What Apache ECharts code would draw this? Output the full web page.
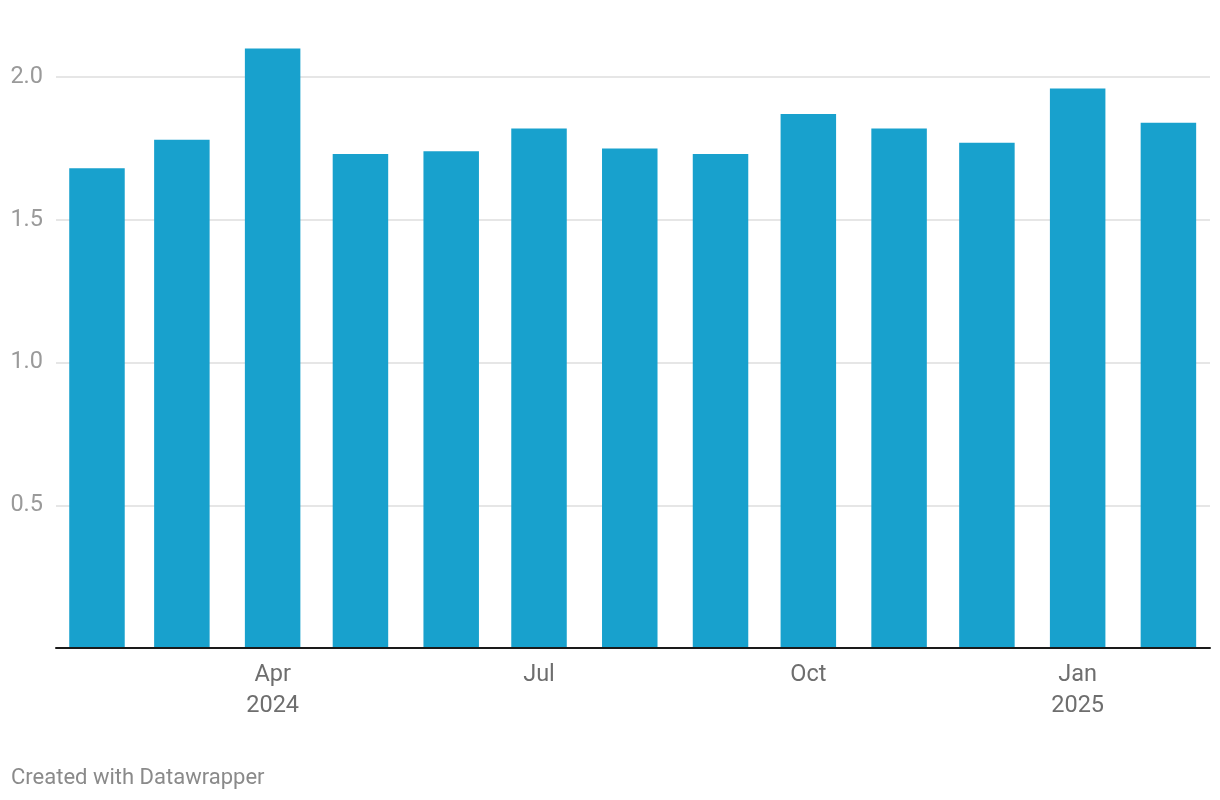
<!DOCTYPE html>
<html>
<head>
<meta charset="utf-8">
<script src="https://cdn.jsdelivr.net/npm/echarts@6/dist/echarts.min.js"></script>
<style>
  html, body { margin: 0; padding: 0; background: #ffffff; }
  #chart { width: 1220px; height: 800px; }
</style>
</head>
<body>
<div id="chart"></div>
<script>
// Monthly dates (year, month index) for each column
const months = [
  [2024, 1], [2024, 2], [2024, 3], [2024, 4], [2024, 5], [2024, 6], [2024, 7],
  [2024, 8], [2024, 9], [2024, 10], [2024, 11], [2025, 0], [2025, 1]
];
const values = [1.68, 1.78, 2.10, 1.73, 1.74, 1.82, 1.75, 1.73, 1.87, 1.82, 1.77, 1.96, 1.84];

// X tick labels
const tickDates = [[2024, 3], [2024, 6], [2024, 9], [2025, 0]];
const tickLabels = ['Apr\n2024', 'Jul', 'Oct', 'Jan\n2025'];

// Y ticks
const yTicks = [0, 0.5, 1.0, 1.5, 2.0];

const footer = 'Created with Datawrapper';

// x positions in days since epoch (time-proportional spacing)
const DAY = 86400000;
const toDay = (ym) => Date.UTC(ym[0], ym[1], 1) / DAY;
const seriesData = months.map((m, i) => [toDay(m), values[i]]);
const tickValues = tickDates.map(toDay);

const chart = echarts.init(document.getElementById('chart'), null, { renderer: 'canvas' });

chart.setOption({
  animation: false,
  backgroundColor: '#ffffff',
  textStyle: { fontFamily: 'Roboto' },
  title: {
    text: footer,
    left: 11,
    top: 767,
    padding: 0,
    textStyle: { fontFamily: 'Roboto', fontSize: 22, fontWeight: 'normal', color: '#8a8a8a' }
  },
  grid: { left: 56, right: 10, top: 77, bottom: 152, containLabel: false },
  xAxis: {
    type: 'value',
    min: Date.UTC(2024, 0, 18) / DAY,
    max: Date.UTC(2025, 1, 15, 5) / DAY,
    z: 10,
    axisLine: { show: true, lineStyle: { color: '#1a1a1a', width: 2 } },
    axisTick: { show: false },
    splitLine: { show: false },
    axisLabel: {
      customValues: tickValues,
      formatter: (v) => {
        const idx = tickValues.indexOf(v);
        return idx >= 0 ? tickLabels[idx] : '';
      },
      fontFamily: 'Roboto',
      fontSize: 23.5,
      lineHeight: 31,
      color: '#6e6e6e',
      margin: 12,
      hideOverlap: false
    }
  },
  yAxis: {
    type: 'value',
    min: yTicks[0],
    max: yTicks[yTicks.length - 1],
    interval: 0.5,
    axisLine: { show: false },
    axisTick: { show: false },
    splitLine: { show: true, lineStyle: { color: '#e6e6e6', width: 2 } },
    axisLabel: {
      showMinLabel: false,
      formatter: (v) => v.toFixed(1),
      fontFamily: 'Roboto',
      fontSize: 23.5,
      color: '#9a9a9a',
      margin: 13
    }
  },
  series: [{
    type: 'bar',
    data: seriesData,
    barWidth: 55.5,
    clip: false,
    itemStyle: { color: '#18a1cd' },
    emphasis: { disabled: true }
  }]
});
</script>
</body>
</html>
